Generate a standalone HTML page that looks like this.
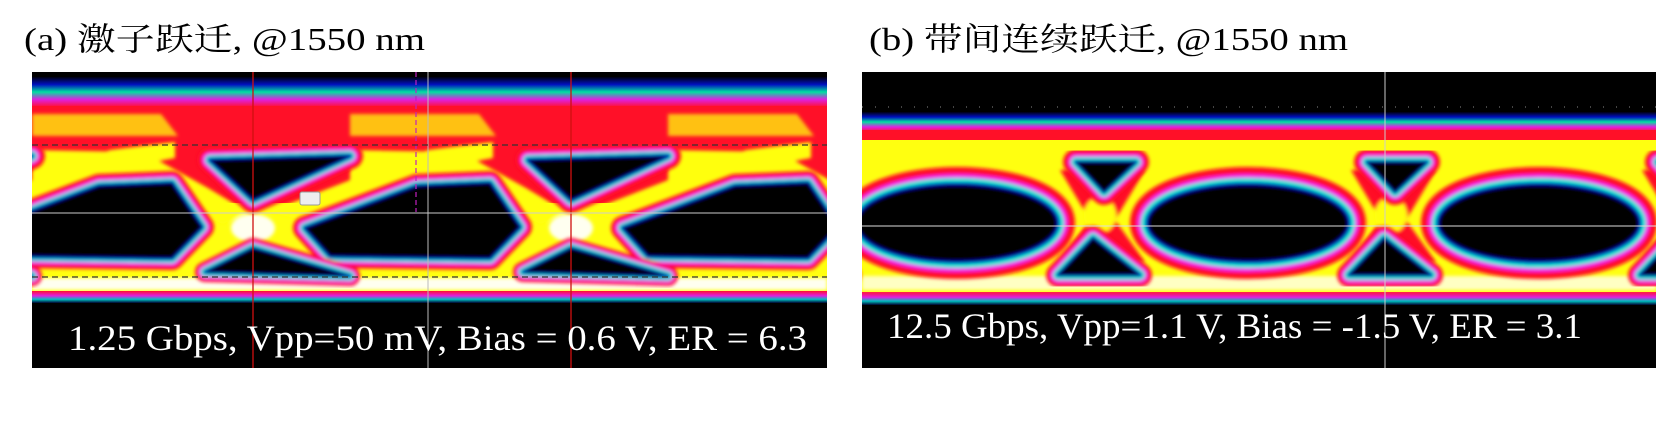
<!DOCTYPE html>
<html><head><meta charset="utf-8"><style>
html,body{margin:0;padding:0;background:#fff;}
svg{display:block;}
</style></head><body>
<svg id="fig" width="1658" height="428" viewBox="0 0 1658 428" xmlns="http://www.w3.org/2000/svg">
<defs>
 <clipPath id="clipA"><rect x="32" y="72" width="795" height="296"/></clipPath>
 <clipPath id="clipB"><rect x="862" y="72" width="794" height="296"/></clipPath>
 <linearGradient id="topA" x1="0" y1="0" x2="0" y2="1">
  <stop offset="0" stop-color="#000010"/><stop offset="0.25" stop-color="#0010c0"/><stop offset="0.5" stop-color="#00e0a0"/><stop offset="0.75" stop-color="#e020e0"/><stop offset="1" stop-color="#ff1030"/>
 </linearGradient>
 <linearGradient id="botA" x1="0" y1="0" x2="0" y2="1">
  <stop offset="0" stop-color="#ff1030"/><stop offset="0.4" stop-color="#e020e0"/><stop offset="0.7" stop-color="#00c0c0"/><stop offset="1" stop-color="#000030"/>
 </linearGradient>
 <filter id="soft"><feGaussianBlur stdDeviation="1.8"/></filter>
</defs>
<text x="24" y="50" font-family="Liberation Serif, 'Noto Serif CJK SC', serif" font-size="32" textLength="401" lengthAdjust="spacingAndGlyphs">(a)  激子跃迁, @1550 nm</text>
<text x="869" y="50" font-family="Liberation Serif, 'Noto Serif CJK SC', serif" font-size="32" textLength="479" lengthAdjust="spacingAndGlyphs">(b)  带间连续跃迁, @1550 nm</text>

<g id="panelA" clip-path="url(#clipA)">
 <rect x="32" y="72" width="795" height="296" fill="#000"/>
 <rect x="32" y="77" width="795" height="30" fill="url(#topA)"/>
 <rect x="32" y="106" width="795" height="100" fill="#ff1028"/>
 <rect x="32" y="203" width="795" height="89" fill="#ffff10"/>
 <rect x="32" y="278" width="795" height="12" fill="#fffff0" filter="url(#soft)"/>
 <rect x="32" y="291" width="795" height="12" fill="url(#botA)"/>
 <g id="traceA" filter="url(#soft)"></g>
 <g id="eyesA" filter="url(#soft)"></g>
 <g id="gridA"></g>
 <text x="68" y="350" fill="#fff" font-family="Liberation Serif, serif" font-size="36" textLength="739" lengthAdjust="spacingAndGlyphs">1.25 Gbps, Vpp=50 mV, Bias = 0.6 V, ER = 6.3</text>
</g>

<g id="panelB" clip-path="url(#clipB)">
 <rect x="862" y="72" width="794" height="296" fill="#000"/>
 <rect x="862" y="112" width="794" height="20" fill="url(#topA)"/>
 <rect x="862" y="130" width="794" height="12" fill="#ff1028"/>
 <rect x="862" y="140" width="794" height="153" fill="#ffff10"/>
 <rect x="862" y="292" width="794" height="13" fill="url(#botA)"/>
 <g id="traceB" filter="url(#soft)"></g>
 <g id="eyesB" filter="url(#soft)"></g>
 <g id="gridB"></g>
 <text x="887" y="338" fill="#fff" font-family="Liberation Serif, serif" font-size="36" textLength="695" lengthAdjust="spacingAndGlyphs">12.5 Gbps, Vpp=1.1 V, Bias = -1.5 V, ER = 3.1</text>
</g>
</svg>
<script>
const crossingsA = [-65, 253, 571, 889];
const crossingsB = [809, 1100, 1391, 1682];
const bigEyeA = [[52,228],[164,186],[237,183],[267,227],[237,258],[77,256]];
const upTriA = [[-43,160],[97,156],[0,200]];
const lowTriA = [[-48,272],[0,248],[97,276]];
const upTriB = [[-24,162],[36,162],[4,192]];
const lowTriB = [[-7,238],[-42,275],[40,275]];
const eyeB = {dx: 148, cy: 223, rx: 100, ry: 38};

const NS = 'http://www.w3.org/2000/svg';
function mk(tag, attrs, parent){
  const e = document.createElementNS(NS, tag);
  for (const k in attrs) e.setAttribute(k, attrs[k]);
  parent.appendChild(e); return e;
}
function pts(tpl, xc){ return tpl.map(p => (xc+p[0])+','+p[1]).join(' '); }
function rimmed(parent, tag, geo, widths, name){
  const g = mk('g', {}, parent);
  
  
  const cols = ['#ff1028','#f020f0','#00f0d0','#0018c0'];
  widths.forEach((w,i) => {
    const a = Object.assign({}, geo, {fill: cols[i], stroke: cols[i], 'stroke-width': w, 'stroke-linejoin':'round'});
    mk(tag, a, g);
  });
  mk(tag, Object.assign({}, geo, {fill:'#000'}), g);
}
const tA = document.getElementById('traceA');
const eA = document.getElementById('eyesA');
crossingsA.forEach(xc => {
  const t = mk('polygon', {points: pts([[-221,114],[-92,114],[-75,136],[-221,136]], xc), fill:'#ffe010', opacity:0.85}, tA);
  
  
  const d = mk('polygon', {points: pts([[-221,150],[-110,152],[-45,188],[-5,212],[-30,224],[-85,200],[-221,182]], xc), fill:'#ffff10'}, tA);
  
  
  const r = mk('polygon', {points: pts([[15,212],[110,175],[175,150],[240,142],[240,158],[175,170],[60,222]], xc), fill:'#ffff10'}, tA);
  
  
  const c = mk('ellipse', {cx: xc, cy: 228, rx: 22, ry: 14, fill:'#fffff0'}, tA);
  
  
});
crossingsA.forEach(xc => {
  rimmed(eA, 'polygon', {points: pts(upTriA, xc)}, [26,16,10,5], 'upper-eye');
  rimmed(eA, 'polygon', {points: pts(bigEyeA, xc)}, [24,16,10,5], 'main-eye');
  rimmed(eA, 'polygon', {points: pts(lowTriA, xc)}, [20,14,9,4], 'lower-eye');
});
const gA = document.getElementById('gridA');
[[253,'#d01010'],[571,'#d01010']].forEach(v => {
  const l = mk('line', {x1:v[0], x2:v[0], y1:72, y2:368, stroke:v[1], 'stroke-width':1.3}, gA);
  
  
});
const gl = mk('line', {x1:428, x2:428, y1:72, y2:368, stroke:'#bbb', 'stroke-width':1}, gA);


const ml = mk('line', {x1:416, x2:416, y1:72, y2:212, stroke:'#c020c0', 'stroke-width':1.2, 'stroke-dasharray':'5 3'}, gA);


[145, 277].forEach(y => {
  const l = mk('line', {x1:32, x2:827, y1:y, y2:y, stroke:'#333', 'stroke-width':1.2, 'stroke-dasharray':'6 4'}, gA);
  
  
});
const hA = mk('line', {x1:32, x2:827, y1:213, y2:213, stroke:'#ccc', 'stroke-width':1}, gA);


const c3 = mk('rect', {x:300, y:192, width:20, height:13, rx:2, fill:'#eee', stroke:'#999'}, gA);



const tB = document.getElementById('traceB');
const eB = document.getElementById('eyesB');
mk('rect', {x:862, y:276, width:794, height:14, fill:'#fffff0', opacity:0.8}, tB);
crossingsB.forEach(xc => {
  const x = mk('polygon', {points: pts([[-40,170],[45,170],[15,220],[45,262],[-40,262],[-10,220]], xc), fill:'#ff1028'}, tB);
  
  
  mk('ellipse', {cx: xc, cy: 215, rx: 16, ry: 18, fill:'#ffff10'}, tB);
});
crossingsB.forEach(xc => {
  rimmed(eB, 'ellipse', {cx: xc+eyeB.dx, cy: eyeB.cy, rx: eyeB.rx, ry: eyeB.ry}, [36,22,14,6], 'main-eye');
  rimmed(eB, 'polygon', {points: pts(upTriB, xc)}, [26,16,10,4], 'upper-eye');
  rimmed(eB, 'polygon', {points: pts(lowTriB, xc)}, [24,16,10,4], 'lower-eye');
});
const gB = document.getElementById('gridB');
const hB = mk('line', {x1:862, x2:1656, y1:226, y2:226, stroke:'#ddd', 'stroke-width':1}, gB);


const vB = mk('line', {x1:1385, x2:1385, y1:72, y2:368, stroke:'#ccc', 'stroke-width':1}, gB);


const dB = mk('line', {x1:862, x2:1656, y1:107, y2:107, stroke:'#888', 'stroke-width':1, 'stroke-dasharray':'1 12'}, gB);


</script>
</body></html>
